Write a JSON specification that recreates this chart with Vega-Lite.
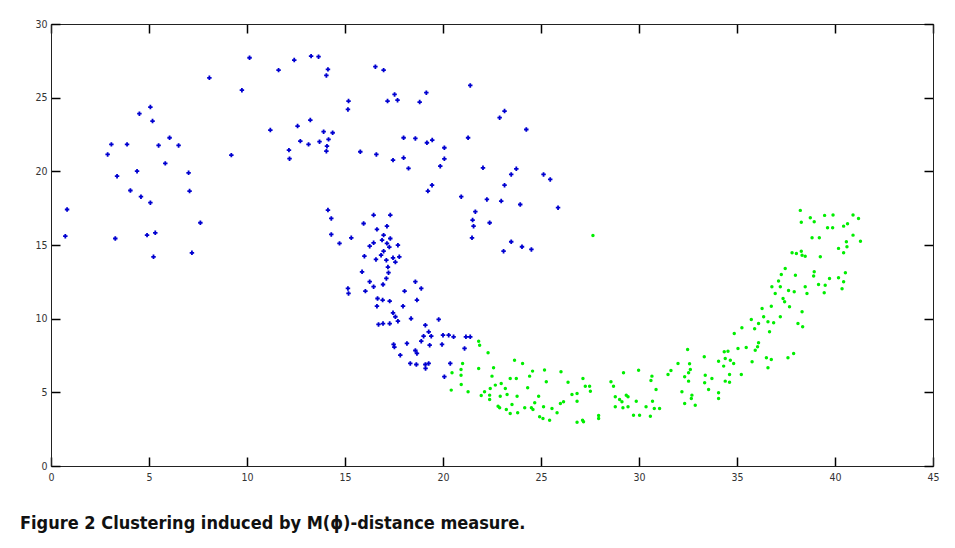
{
  "$schema": "https://vega.github.io/schema/vega-lite/v6.json",
  "width": 882,
  "height": 442,
  "autosize": "none",
  "padding": {"left": 51, "top": 24, "right": 22, "bottom": 82},
  "background": "white",
  "title": {
    "text": "Figure 2  Clustering induced by M(ϕ)-distance measure.",
    "orient": "bottom",
    "anchor": "start",
    "frame": "group",
    "font": "DejaVu Sans Condensed",
    "fontSize": 18,
    "fontWeight": "bold",
    "color": "#111111",
    "offset": 32,
    "dx": -31
  },
  "config": {
    "view": {"stroke": "#222222", "strokeWidth": 1}
  },
  "datasets": {
    "blue": [
      {"x":0.82,"y":17.41},{"x":0.73,"y":15.60},{"x":3.28,"y":15.44},{"x":2.89,"y":21.15},{"x":3.08,"y":21.83},
      {"x":3.37,"y":19.67},{"x":3.88,"y":21.83},{"x":4.05,"y":18.70},{"x":4.39,"y":20.01},{"x":4.51,"y":23.91},
      {"x":4.59,"y":18.28},{"x":5.07,"y":24.36},{"x":5.18,"y":23.41},{"x":5.07,"y":17.87},{"x":4.90,"y":15.67},
      {"x":5.32,"y":15.83},{"x":5.23,"y":14.20},{"x":5.49,"y":21.76},{"x":6.05,"y":22.28},{"x":5.83,"y":20.54},
      {"x":6.51,"y":21.76},{"x":7.02,"y":19.90},{"x":7.07,"y":18.66},{"x":7.62,"y":16.51},{"x":7.19,"y":14.47},
      {"x":8.08,"y":26.35},{"x":9.20,"y":21.10},{"x":9.74,"y":25.51},{"x":10.13,"y":27.71},{"x":11.19,"y":22.80},
      {"x":11.61,"y":26.87},{"x":12.14,"y":21.44},{"x":12.17,"y":20.86},{"x":12.41,"y":27.55},{"x":12.58,"y":23.07},
      {"x":12.72,"y":22.05},{"x":13.23,"y":23.48},{"x":13.14,"y":21.83},{"x":13.27,"y":27.82},{"x":13.65,"y":27.78},
      {"x":13.70,"y":22.01},{"x":14.13,"y":26.92},{"x":14.05,"y":26.51},{"x":16.55,"y":27.10},{"x":16.97,"y":26.87},
      {"x":21.39,"y":25.83},{"x":15.18,"y":24.77},{"x":15.15,"y":24.20},{"x":17.17,"y":24.77},{"x":17.53,"y":25.22},
      {"x":17.68,"y":24.83},{"x":19.15,"y":25.34},{"x":18.81,"y":24.70},{"x":23.14,"y":24.09},{"x":22.89,"y":23.64},
      {"x":24.25,"y":22.84},{"x":13.91,"y":22.69},{"x":14.37,"y":22.62},{"x":14.16,"y":22.17},{"x":14.08,"y":21.71},
      {"x":14.05,"y":21.37},{"x":15.78,"y":21.33},{"x":16.60,"y":21.15},{"x":17.99,"y":22.28},{"x":18.59,"y":22.23},
      {"x":19.18,"y":21.94},{"x":19.45,"y":22.12},{"x":20.07,"y":21.60},{"x":21.28,"y":22.28},{"x":17.45,"y":20.76},
      {"x":17.99,"y":20.92},{"x":18.24,"y":20.20},{"x":20.07,"y":20.85},{"x":19.86,"y":20.35},{"x":19.44,"y":19.06},
      {"x":19.23,"y":18.66},{"x":22.04,"y":20.24},{"x":23.48,"y":19.79},{"x":23.74,"y":20.17},{"x":23.14,"y":19.06},
      {"x":25.13,"y":19.79},{"x":25.47,"y":19.45},{"x":20.93,"y":18.28},{"x":22.24,"y":18.09},{"x":22.97,"y":17.98},
      {"x":23.94,"y":17.75},{"x":25.87,"y":17.53},{"x":21.65,"y":17.26},{"x":21.51,"y":16.69},{"x":21.56,"y":16.28},
      {"x":22.38,"y":16.51},{"x":21.48,"y":15.49},{"x":23.48,"y":15.22},{"x":23.09,"y":14.58},{"x":24.03,"y":14.88},
      {"x":24.51,"y":14.70},{"x":14.13,"y":17.37},{"x":14.30,"y":16.80},{"x":14.30,"y":15.72},{"x":14.72,"y":15.11},
      {"x":15.32,"y":15.49},{"x":16.46,"y":17.03},{"x":17.31,"y":17.03},{"x":15.95,"y":16.46},{"x":17.14,"y":16.28},
      {"x":16.63,"y":16.06},{"x":16.97,"y":15.67},{"x":16.89,"y":15.33},{"x":17.31,"y":15.44},{"x":16.26,"y":14.92},
      {"x":16.46,"y":15.15},{"x":17.14,"y":15.11},{"x":17.26,"y":14.86},{"x":17.70,"y":14.99},{"x":16.97,"y":14.58},
      {"x":16.84,"y":14.31},{"x":15.99,"y":14.24},{"x":16.58,"y":14.02},{"x":17.11,"y":13.97},{"x":17.45,"y":14.13},
      {"x":17.77,"y":14.20},{"x":17.57,"y":13.84},{"x":17.19,"y":13.50},{"x":17.22,"y":13.12},{"x":15.87,"y":13.18},
      {"x":17.11,"y":12.73},{"x":16.26,"y":12.51},{"x":16.94,"y":12.32},{"x":16.46,"y":12.17},{"x":15.15,"y":12.05},
      {"x":15.18,"y":11.71},{"x":16.04,"y":11.87},{"x":18.59,"y":12.51},{"x":18.89,"y":12.05},{"x":18.04,"y":11.87},
      {"x":16.66,"y":11.37},{"x":16.92,"y":11.26},{"x":17.28,"y":11.19},{"x":16.63,"y":10.85},{"x":18.67,"y":11.26},
      {"x":17.96,"y":10.85},{"x":17.45,"y":10.40},{"x":17.57,"y":10.13},{"x":17.70,"y":9.83},{"x":16.71,"y":9.61},
      {"x":16.94,"y":9.67},{"x":17.28,"y":9.67},{"x":18.37,"y":10.01},{"x":19.78,"y":9.95},{"x":19.10,"y":9.56},
      {"x":19.27,"y":9.11},{"x":19.40,"y":8.81},{"x":19.01,"y":8.81},{"x":20.00,"y":8.88},{"x":20.29,"y":8.88},
      {"x":20.54,"y":8.77},{"x":21.17,"y":8.77},{"x":21.39,"y":8.77},{"x":18.89,"y":8.47},{"x":17.48,"y":8.25},
      {"x":17.52,"y":8.07},{"x":18.16,"y":8.32},{"x":19.32,"y":8.20},{"x":19.95,"y":8.25},{"x":18.59,"y":7.84},
      {"x":18.67,"y":7.64},{"x":21.10,"y":7.98},{"x":17.82,"y":7.52},{"x":18.33,"y":6.96},{"x":18.64,"y":6.89},
      {"x":19.10,"y":6.89},{"x":19.27,"y":6.96},{"x":19.11,"y":6.62},{"x":20.37,"y":6.96},{"x":20.07,"y":6.06}
    ],
    "green": [
      {"x":27.65,"y":15.65},{"x":21.82,"y":8.47},{"x":21.87,"y":8.20},{"x":22.30,"y":7.68},{"x":23.65,"y":7.18},
      {"x":24.06,"y":6.96},{"x":21.00,"y":6.96},{"x":21.82,"y":6.62},{"x":22.58,"y":6.67},{"x":20.46,"y":6.33},
      {"x":20.92,"y":6.55},{"x":20.92,"y":6.16},{"x":22.50,"y":6.10},{"x":23.43,"y":5.94},{"x":23.74,"y":5.94},
      {"x":24.57,"y":6.44},{"x":25.18,"y":6.51},{"x":26.02,"y":6.40},{"x":24.42,"y":6.10},{"x":25.27,"y":5.72},
      {"x":26.38,"y":5.69},{"x":27.14,"y":5.94},{"x":27.26,"y":5.42},{"x":27.48,"y":5.42},{"x":27.52,"y":5.08},
      {"x":29.21,"y":6.33},{"x":28.57,"y":5.72},{"x":28.70,"y":5.42},{"x":28.79,"y":4.70},{"x":29.01,"y":4.51},
      {"x":29.13,"y":4.36},{"x":29.44,"y":4.70},{"x":28.79,"y":4.02},{"x":29.18,"y":3.95},{"x":29.44,"y":4.02},
      {"x":20.93,"y":5.53},{"x":20.42,"y":5.15},{"x":21.28,"y":5.04},{"x":22.67,"y":5.49},{"x":22.97,"y":5.60},
      {"x":22.41,"y":5.26},{"x":23.18,"y":5.26},{"x":22.12,"y":5.04},{"x":21.95,"y":4.79},{"x":22.38,"y":4.81},
      {"x":22.38,"y":4.51},{"x":22.92,"y":4.74},{"x":23.27,"y":4.85},{"x":23.78,"y":4.74},{"x":24.32,"y":5.31},
      {"x":24.88,"y":4.74},{"x":22.81,"y":4.06},{"x":22.89,"y":3.95},{"x":23.23,"y":3.84},{"x":23.52,"y":4.18},
      {"x":23.43,"y":3.56},{"x":23.81,"y":3.61},{"x":24.17,"y":3.95},{"x":24.51,"y":3.95},{"x":24.68,"y":4.29},
      {"x":24.59,"y":3.84},{"x":25.13,"y":4.02},{"x":25.56,"y":3.90},{"x":25.82,"y":3.61},{"x":25.99,"y":4.24},
      {"x":26.15,"y":4.36},{"x":26.58,"y":4.85},{"x":26.84,"y":4.92},{"x":26.84,"y":4.40},{"x":24.93,"y":3.34},
      {"x":25.10,"y":3.22},{"x":25.44,"y":3.11},{"x":26.84,"y":2.97},{"x":27.12,"y":3.11},{"x":27.17,"y":3.00},
      {"x":27.94,"y":3.43},{"x":27.94,"y":3.22},{"x":29.35,"y":4.80},{"x":29.98,"y":6.50},{"x":29.86,"y":4.40},
      {"x":29.72,"y":3.45},{"x":30.03,"y":3.45},{"x":30.36,"y":4.02},{"x":30.58,"y":3.38},{"x":30.66,"y":6.10},
      {"x":30.61,"y":5.80},{"x":30.87,"y":5.19},{"x":30.69,"y":4.40},{"x":30.78,"y":3.90},{"x":31.05,"y":3.90},
      {"x":31.48,"y":6.21},{"x":31.63,"y":6.48},{"x":31.99,"y":6.96},{"x":32.48,"y":7.91},{"x":32.58,"y":6.94},
      {"x":32.62,"y":6.55},{"x":32.53,"y":6.33},{"x":32.33,"y":6.06},{"x":32.53,"y":5.76},{"x":32.19,"y":5.04},
      {"x":32.70,"y":4.81},{"x":32.67,"y":4.58},{"x":32.33,"y":4.24},{"x":32.87,"y":4.13},{"x":33.33,"y":7.41},
      {"x":33.38,"y":6.16},{"x":33.72,"y":5.94},{"x":33.35,"y":5.65},{"x":33.55,"y":5.19},{"x":34.06,"y":4.97},
      {"x":34.06,"y":4.58},{"x":34.06,"y":7.11},{"x":34.32,"y":6.78},{"x":34.40,"y":7.30},{"x":34.66,"y":7.18},
      {"x":34.83,"y":6.96},{"x":34.35,"y":7.75},{"x":34.54,"y":7.79},{"x":34.62,"y":6.21},{"x":34.40,"y":5.76},
      {"x":34.62,"y":5.69},{"x":35.22,"y":6.21},{"x":35.05,"y":7.98},{"x":35.47,"y":8.04},{"x":35.93,"y":7.86},
      {"x":36.05,"y":8.09},{"x":35.77,"y":7.07},{"x":34.86,"y":9.00},{"x":35.25,"y":9.38},{"x":35.73,"y":9.95},
      {"x":35.90,"y":9.31},{"x":36.10,"y":8.36},{"x":36.10,"y":9.67},{"x":38.23,"y":17.35},{"x":38.28,"y":16.55},
      {"x":38.74,"y":16.85},{"x":38.94,"y":16.58},{"x":39.47,"y":17.01},{"x":39.90,"y":17.03},{"x":39.62,"y":16.17},
      {"x":39.88,"y":16.17},{"x":40.92,"y":17.03},{"x":41.20,"y":16.80},{"x":40.44,"y":16.28},{"x":40.64,"y":16.44},
      {"x":38.83,"y":15.49},{"x":39.20,"y":15.49},{"x":40.92,"y":15.67},{"x":41.30,"y":15.26},{"x":40.58,"y":15.22},
      {"x":40.61,"y":14.88},{"x":40.18,"y":14.77},{"x":40.44,"y":14.47},{"x":37.81,"y":14.47},{"x":38.03,"y":14.43},
      {"x":38.28,"y":14.58},{"x":38.32,"y":14.31},{"x":38.48,"y":14.24},{"x":39.25,"y":14.20},{"x":37.46,"y":13.41},
      {"x":37.26,"y":13.00},{"x":37.98,"y":12.95},{"x":37.12,"y":12.55},{"x":36.78,"y":12.17},{"x":37.21,"y":12.17},
      {"x":36.95,"y":11.71},{"x":37.63,"y":11.91},{"x":37.92,"y":11.83},{"x":38.94,"y":13.18},{"x":38.91,"y":12.89},
      {"x":38.48,"y":12.17},{"x":38.57,"y":11.71},{"x":39.16,"y":12.32},{"x":39.50,"y":12.27},{"x":39.45,"y":11.76},
      {"x":39.72,"y":12.73},{"x":40.18,"y":12.78},{"x":40.44,"y":12.51},{"x":40.36,"y":12.03},{"x":40.53,"y":13.12},
      {"x":37.35,"y":11.37},{"x":37.43,"y":11.15},{"x":37.68,"y":10.81},{"x":36.75,"y":10.85},{"x":36.28,"y":10.69},
      {"x":36.36,"y":10.13},{"x":37.21,"y":10.13},{"x":38.32,"y":10.47},{"x":36.58,"y":9.79},{"x":36.87,"y":9.72},
      {"x":36.66,"y":9.11},{"x":38.11,"y":9.67},{"x":38.35,"y":9.45},{"x":36.50,"y":7.34},{"x":36.75,"y":7.23},
      {"x":36.58,"y":6.67},{"x":37.60,"y":7.34},{"x":37.89,"y":7.64}
    ]
  },
  "layer": [
    {
      "data": {"name": "blue"},
      "mark": {"type": "point", "shape": "cross", "filled": true, "size": 20, "color": "#0000d0", "opacity": 1},
      "encoding": {
        "x": {"field": "x", "type": "quantitative", "scale": {"domain": [0, 45], "nice": false, "zero": false},
              "axis": {"orient": "bottom", "title": null, "grid": false, "zindex": 1, "tickCount": 9, "tickSize": -9, "tickWidth": 1.5, "tickColor": "#000000",
                       "domainColor": "#222222", "labelColor": "#333333", "labelFont": "DejaVu Sans Condensed", "labelFontSize": 10.5,
                       "labelPadding": 15, "labelFlush": false}},
        "y": {"field": "y", "type": "quantitative", "scale": {"domain": [0, 30], "nice": false, "zero": false},
              "axis": {"orient": "left", "title": null, "grid": false, "zindex": 1, "tickCount": 6, "tickSize": -9, "tickWidth": 1.5, "tickColor": "#000000",
                       "domainColor": "#222222", "labelColor": "#333333", "labelFont": "DejaVu Sans Condensed", "labelFontSize": 10.5,
                       "labelPadding": 13, "labelFlush": false}}
      }
    },
    {
      "data": {"name": "green"},
      "mark": {"type": "point", "shape": "circle", "filled": true, "size": 12, "color": "#00ee00", "opacity": 1},
      "encoding": {
        "x": {"field": "x", "type": "quantitative",
              "axis": {"orient": "top", "title": null, "grid": false, "zindex": 1, "tickCount": 9, "tickSize": -9, "tickWidth": 1.5, "tickColor": "#000000",
                       "labels": false, "domainColor": "#222222"}},
        "y": {"field": "y", "type": "quantitative",
              "axis": {"orient": "right", "title": null, "grid": false, "zindex": 1, "tickCount": 6, "tickSize": -9, "tickWidth": 1.5, "tickColor": "#000000",
                       "labels": false, "domainColor": "#222222"}}
      }
    }
  ],
  "resolve": {"axis": {"x": "independent", "y": "independent"}}
}
